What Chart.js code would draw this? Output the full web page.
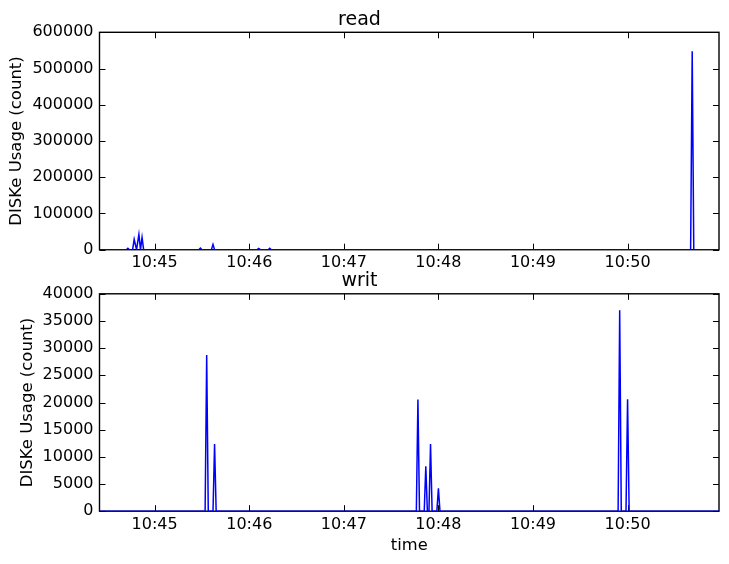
<!DOCTYPE html>
<html>
<head>
<meta charset="utf-8">
<script src="https://cdn.jsdelivr.net/npm/chart.js@4.4.0/dist/chart.umd.min.js"></script>
<style>
  html, body { margin: 0; padding: 0; background: #fff; }
  #figure { position: relative; width: 729px; height: 564px; overflow: hidden; }
  #figure canvas { position: absolute; left: 0; }
  #readChart { top: 0; }
  #writChart { top: 261px; }
</style>
</head>
<body>
<div id="figure">
  <canvas id="readChart" width="729" height="282"></canvas>
  <canvas id="writChart" width="729" height="303"></canvas>
</div>
<script>
(function () {
  'use strict';

  // times are seconds after 10:44:00
  var READ_TIMES = [25, 42, 43, 44, 46, 47, 48.5, 50, 51, 52, 53, 88, 89, 90, 96, 97, 98, 125, 126, 127, 132, 133, 134, 400, 401, 402, 418];
  var READ_VALUES = [0, 0, 4000, 0, 0, 28500, 0, 42300, 0, 34000, 0, 0, 4500, 0, 0, 14700, 0, 0, 3500, 0, 0, 4000, 0, 0, 548000, 0, 0];

  var WRIT_TIMES = [25, 92, 93, 94, 97, 98, 99, 226, 227, 228, 231, 232, 233, 234, 235, 236, 239, 240, 241, 354, 355, 356, 359, 360, 361, 418];
  var WRIT_VALUES = [0, 0, 28750, 0, 0, 12350, 0, 0, 20560, 0, 0, 8250, 0, 0, 12350, 0, 0, 4200, 0, 0, 36960, 0, 0, 20600, 0, 0];

  var TICK_SECONDS = [60, 120, 180, 240, 300, 360];
  var TICK_LABELS = ['10:45', '10:46', '10:47', '10:48', '10:49', '10:50'];

  var FONT = 'DejaVu Sans';

  // matplotlib-style box with ticks pointing inwards on all four sides
  var frame = {
    id: 'frame',
    beforeDatasetsDraw: function (chart) {
      var a = chart.chartArea, ctx = chart.ctx;
      var xs = chart.scales.x, ys = chart.scales.y;
      ctx.save();
      ctx.strokeStyle = '#000';
      ctx.lineWidth = 1;
      ctx.beginPath();
      xs.ticks.forEach(function (t) {
        var px = Math.round(xs.getPixelForValue(t.value)) + 0.5;
        ctx.moveTo(px, a.bottom); ctx.lineTo(px, a.bottom - 6);
        ctx.moveTo(px, a.top); ctx.lineTo(px, a.top + 6);
      });
      ys.ticks.forEach(function (t) {
        var py = Math.round(ys.getPixelForValue(t.value)) + 0.5;
        ctx.moveTo(a.left, py); ctx.lineTo(a.left + 6, py);
        ctx.moveTo(a.right, py); ctx.lineTo(a.right - 6, py);
      });
      ctx.stroke();
      ctx.lineWidth = 1.4;
      ctx.strokeRect(a.left, a.top, a.right - a.left, a.bottom - a.top);
      ctx.restore();
    }
  };

  function makeChart(id, title, times, values, yMax, yStep, cfg) {
    var points = times.map(function (t, i) { return {x: t, y: values[i]}; });
    return new Chart(document.getElementById(id), {
      type: 'line',
      data: {datasets: [{data: points, borderColor: '#0000ff', borderWidth: 1.5, pointRadius: 0, tension: 0, fill: false}]},
      plugins: [frame],
      options: {
        responsive: false,
        animation: false,
        events: [],
        layout: {padding: {left: 0, right: 10, top: 0, bottom: 0}},
        plugins: {
          legend: {display: false},
          tooltip: {enabled: false},
          title: {display: true, text: title, color: '#000', font: {family: FONT, size: 19, weight: 'normal'}, padding: {top: cfg.titleTop, bottom: cfg.titleBottom}}
        },
        scales: {
          x: {
            type: 'linear',
            min: times[0],
            max: times[times.length - 1],
            grid: {display: false, drawTicks: false},
            border: {display: false},
            afterBuildTicks: function (scale) { scale.ticks = TICK_SECONDS.map(function (v) { return {value: v}; }); },
            afterFit: function (scale) { scale.height = cfg.xHeight; },
            ticks: {
              autoSkip: false, maxRotation: 0, padding: 4, color: '#000', font: {family: FONT, size: 16},
              callback: function (v) { return TICK_LABELS[TICK_SECONDS.indexOf(v)]; }
            },
            title: {display: cfg.xTitle, text: 'time', color: '#000', font: {family: FONT, size: 16.3}, padding: {top: 0, bottom: 8.8}}
          },
          y: {
            min: 0,
            max: yMax,
            grid: {display: false, drawTicks: false},
            border: {display: false},
            afterFit: function (scale) { scale.width = 99.5; },
            ticks: {
              stepSize: yStep, autoSkip: false, padding: 6, color: '#000', font: {family: FONT, size: 16},
              callback: function (v) { return String(v); }
            },
            title: {display: true, text: 'DISKe Usage (count)', color: '#000', font: {family: FONT, size: 16.5}, padding: {top: cfg.yTitlePad, bottom: 0}}
          }
        }
      }
    });
  }

  makeChart('readChart', 'read', READ_TIMES, READ_VALUES, 600000, 100000,
    {titleTop: 8.5, titleBottom: 1.0, xHeight: 32.3, xTitle: false, yTitlePad: 6.6});
  makeChart('writChart', 'writ', WRIT_TIMES, WRIT_VALUES, 40000, 5000,
    {titleTop: 9.0, titleBottom: 1.0, xHeight: 52.8, xTitle: true, yTitlePad: 17.6});
}());
</script>
</body>
</html>
